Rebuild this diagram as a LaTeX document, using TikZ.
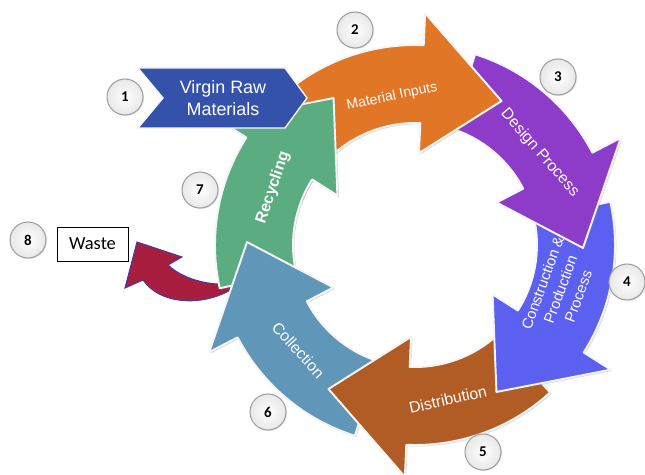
\documentclass[tikz,border=0pt]{standalone}
\usepackage{fontspec}
\setmainfont{Liberation Sans}
\newfontfamily\calibfont{Carlito}
\usepackage{xcolor}
\usepackage{tikz}
\usetikzlibrary{shadows}

\definecolor{orangeArrow}{RGB}{224,118,38}
\definecolor{purpleArrow}{RGB}{140,60,200}
\definecolor{blueArrow}{RGB}{92,96,240}
\definecolor{brownArrow}{RGB}{176,92,36}
\definecolor{steelArrow}{RGB}{96,150,184}
\definecolor{greenArrow}{RGB}{92,172,130}
\definecolor{chevronBlue}{RGB}{52,82,170}
\definecolor{wasteRed}{RGB}{168,30,62}
\definecolor{wasteEdge}{RGB}{70,60,160}

% ring radii (in picture units)
\newcommand{\ringin}{122}
\newcommand{\ringout}{200}

% one curved arrow of the ring, #2 = its place (0 = top right)
\newcommand{\cyclearrow}[2]{%
  \pgfmathsetmacro{\tailang}{72.5-60*#2}
  \pgfmathsetmacro{\baseang}{27.5-60*#2}
  \pgfmathsetmacro{\tipang}{-1-60*#2}
  \path[ringarrow, fill=#1] (\tailang:\ringout)
    arc[start angle=\tailang, end angle=\baseang, radius=\ringout*0.02cm]
    -- (\baseang:232) -- (\tipang:168) -- (\baseang:92) -- (\baseang:\ringin)
    arc[start angle=\baseang, end angle=\tailang, radius=\ringin*0.02cm] -- cycle;
}

\begin{document}
\begin{tikzpicture}[x=0.02cm, y=0.02cm,
    ringarrow/.style={draw=white!92!gray, line width=1.1pt, line join=round,
      drop shadow={opacity=0.3, shadow xshift=0.8pt, shadow yshift=-0.8pt}},
    armlabel/.style={text=white, font=\fontsize{9}{10.5}\selectfont, align=center, inner sep=0pt},
    numball/.style={circle, draw=gray!75, line width=0.6pt, inner color=white, outer color=gray!18,
      minimum size=0.72cm, inner sep=0pt, font=\calibfont\bfseries\fontsize{8.5}{8.5}\selectfont,
      drop shadow={opacity=0.2, shadow xshift=0.6pt, shadow yshift=-0.6pt}}]
    \useasboundingbox (0,0) rectangle (645,-475);

    % Waste arrow (under the ring)
    \path[fill=wasteRed, draw=wasteEdge, line width=0.6pt]
      (237,-283) .. controls (215,-287) and (185,-281) .. (168,-265)
      -- (182,-257) -- (137,-242) -- (125,-288) -- (143,-280)
      .. controls (160,-305) and (205,-308) .. (237,-286) -- cycle;

    % Draw the ring of arrows
    \begin{scope}[shift={(415,-245)}]
        \cyclearrow{greenArrow}{4}
        \cyclearrow{steelArrow}{3}
        \cyclearrow{brownArrow}{2}
        \cyclearrow{blueArrow}{1}
        \cyclearrow{purpleArrow}{0}
        \cyclearrow{orangeArrow}{5}
        % green head lies over the orange tail
        \begin{scope}
            \clip (0,0) -- (105:300) arc[start angle=105, end angle=160, radius=6cm] -- cycle;
            \cyclearrow{greenArrow}{4}
        \end{scope}

        % Labels on the arrows
        \node[armlabel, font=\fontsize{8}{9.5}\selectfont, rotate=12] (inputs) at (98.8:150) {Material Inputs};
        \node[armlabel, rotate=-49] (design) at (36.4:155) {Design Process};
        \node[armlabel, font=\fontsize{8.5}{10.8}\selectfont, rotate=70] (production) at (-17:152)
            {Construction \&\\Production\\Process};
        \node[armlabel, rotate=13] (distribution) at (-78:158) {Distribution};
        \node[armlabel, rotate=-48] (collection) at (-138:157) {Collection};
        \node[armlabel, font=\bfseries\fontsize{9}{10.5}\selectfont, rotate=71] (recycling) at (158:153) {Recycling};
    \end{scope}

    % Virgin raw materials chevron
    \path[fill=chevronBlue, draw=white!92!gray, line width=0.8pt]
      (138,-68) -- (285,-68) -- (307,-98) -- (285,-128) -- (138,-128) -- (163,-98) -- cycle;
    \node[armlabel, font=\fontsize{10.2}{12.3}\selectfont] (virgin) at (223,-98) {Virgin Raw\\Materials};

    % Waste box
    \node[draw, thin, minimum width=1.42cm, minimum height=0.68cm, inner sep=0pt,
          font=\calibfont\fontsize{10.5}{10.5}\selectfont] (waste) at (92.5,-244) {Waste};

    % Step numbers
    \node[numball] (n1) at (125,-97) {1};
    \node[numball] (n2) at (355,-30) {2};
    \node[numball] (n3) at (558,-77) {3};
    \node[numball] (n4) at (627,-282) {4};
    \node[numball] (n5) at (483,-452) {5};
    \node[numball] (n6) at (268,-412) {6};
    \node[numball] (n7) at (200,-190) {7};
    \node[numball] (n8) at (28,-240) {8};
\end{tikzpicture}
\end{document}
